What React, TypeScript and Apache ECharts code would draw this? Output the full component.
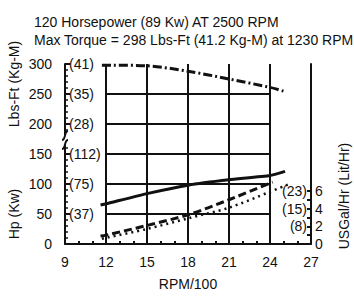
import React, { useEffect, useRef } from "react";
import * as echarts from "echarts";

const titleLines = [
  "120 Horsepower (89 Kw) AT 2500 RPM",
  "Max Torque = 298 Lbs-Ft (41.2 Kg-M) at 1230 RPM",
];

// x = RPM/100
const torque: [number, number][] = [
  [11.7, 298], [12.5, 298], [15, 297], [18, 288], [21, 275], [24, 261], [25.1, 254],
];
const horsepower: [number, number][] = [
  [11.6, 65], [12, 67], [15, 84], [18, 98], [21, 107], [24, 114], [25.1, 121],
];
// fuel, USGal/Hr (right axis)
const fuelDashed: [number, number][] = [
  [11.6, 0.9], [12, 1.0], [15, 2.1], [18, 3.3], [21, 5.0], [24.2, 7.0],
];
const fuelDotted: [number, number][] = [
  [11.7, 0.6], [12, 0.7], [15, 1.7], [18, 2.9], [21, 4.1], [24, 5.9], [25.3, 6.7],
];

const gridXs = [12, 15, 18, 21, 24];
const gridYs = [50, 100, 150, 200, 250];
const leftInnerLabels: Record<number, string> = {
  300: "(41)", 250: "(35)", 200: "(28)", 150: "(112)", 100: "(75)", 50: "(37)",
};
const rightInnerLabels: Record<number, string> = { 2: "(8)", 4: "(15)", 6: "(23)" };
const rightLabels = [0, 2, 4, 6];

const FONT = "Liberation Sans, Arial, sans-serif";

export default function App() {
  const ref = useRef<HTMLDivElement>(null);
  useEffect(() => {
    if (!ref.current) return;
    const chart = echarts.init(ref.current, undefined, { renderer: "svg" });
    const black = "#111";
    const markData: any[] = [];
    gridXs.forEach((x) => markData.push([{ coord: [x, 0] }, { coord: [x, 300] }]));
    gridYs.forEach((y) => markData.push([{ coord: [12, y] }, { coord: [24, y] }]));

    chart.setOption({
      animation: false,
      textStyle: { fontFamily: FONT, color: black },
      title: {
        text: titleLines.join("\n"),
        left: 29,
        top: 8,
        textStyle: { fontSize: 14, fontWeight: "normal", lineHeight: 18, color: black, fontFamily: FONT },
      },
      grid: { left: 65, right: 43, top: 64, bottom: 49 },
      xAxis: {
        type: "value",
        min: 9,
        max: 27,
        interval: 3,
        name: "RPM/100",
        nameLocation: "middle",
        nameGap: 33,
        nameTextStyle: { fontSize: 14, color: black, fontFamily: FONT },
        axisLine: { lineStyle: { color: black, width: 2 } },
        axisTick: { inside: true, length: 5, lineStyle: { color: black, width: 2 } },
        minorTick: { show: true, splitNumber: 3, length: 3, lineStyle: { color: black, width: 2 } },
        axisLabel: { fontSize: 14, color: black, margin: 11, fontFamily: FONT },
        splitLine: { show: false },
      },
      yAxis: [
        {
          type: "value",
          min: 0,
          max: 300,
          interval: 50,
          position: "left",
          axisLine: { show: true, lineStyle: { color: black, width: 2 } },
          axisTick: { inside: true, length: 5, lineStyle: { color: black, width: 2 } },
          minorTick: { show: true, splitNumber: 5, length: 3, lineStyle: { color: black, width: 1.5 } },
          axisLabel: { fontSize: 14, color: black, margin: 13, fontFamily: FONT },
          splitLine: { show: false },
        },
        {
          type: "value",
          min: 0,
          max: 20.33,
          position: "right",
          axisLine: { show: true, lineStyle: { color: black, width: 2 } },
          axisTick: { show: true, inside: true, length: 4, customValues: [0, 1, 2, 3, 4, 5, 6], lineStyle: { color: black, width: 2 } },
          axisLabel: { fontSize: 14, color: black, margin: 4, customValues: rightLabels, fontFamily: FONT },
          splitLine: { show: false },
        },
        {
          type: "value",
          min: 0,
          max: 300,
          interval: 50,
          position: "left",
          axisLine: { show: false },
          axisTick: { show: false },
          axisLabel: {
            inside: true,
            margin: 4,
            fontSize: 14,
            color: black,
            fontFamily: FONT,
            formatter: (v: number) => leftInnerLabels[v] || "",
          },
          splitLine: { show: false },
        },
        {
          type: "value",
          min: 0,
          max: 20.33,
          position: "right",
          axisLine: { show: false },
          axisTick: { show: false },
          axisLabel: {
            inside: true,
            margin: 4,
            fontSize: 14,
            color: black,
            fontFamily: FONT,
            customValues: [2, 4, 6],
            formatter: (v: number) => rightInnerLabels[v] || "",
          },
          splitLine: { show: false },
        },
      ],
      series: [
        {
          type: "line",
          name: "grid",
          data: [],
          yAxisIndex: 0,
          silent: true,
          markLine: {
            silent: true,
            symbol: "none",
            label: { show: false },
            lineStyle: { color: black, width: 2, type: "solid" },
            data: markData,
          },
        },
        {
          type: "line",
          name: "Torque",
          data: torque,
          yAxisIndex: 0,
          smooth: 0.3,
          showSymbol: false,
          lineStyle: { color: black, width: 3, type: [9, 3, 2, 3] },
        },
        {
          type: "line",
          name: "Hp",
          data: horsepower,
          yAxisIndex: 0,
          smooth: 0.15,
          showSymbol: false,
          lineStyle: { color: black, width: 3 },
        },
        {
          type: "line",
          name: "Fuel dashed",
          data: fuelDashed,
          yAxisIndex: 1,
          smooth: 0.3,
          showSymbol: false,
          lineStyle: { color: black, width: 3, type: [8, 4] },
        },
        {
          type: "line",
          name: "Fuel dotted",
          data: fuelDotted,
          yAxisIndex: 1,
          smooth: 0.3,
          showSymbol: false,
          lineStyle: { color: black, width: 2.5, type: [2, 4] },
        },
      ],
      graphic: [
        {
          type: "text",
          x: 14,
          y: 84,
          rotation: Math.PI / 2,
          style: { text: "Lbs-Ft (Kg-M)", fontSize: 14, fill: black, font: `14px ${FONT}`, align: "center", verticalAlign: "middle" },
        },
        {
          type: "text",
          x: 14,
          y: 214,
          rotation: Math.PI / 2,
          style: { text: "Hp (Kw)", fontSize: 14, fill: black, font: `14px ${FONT}`, align: "center", verticalAlign: "middle" },
        },
        {
          type: "text",
          x: 344,
          y: 196,
          rotation: Math.PI / 2,
          style: { text: "USGal/Hr (Lit/Hr)", fontSize: 14, fill: black, font: `14px ${FONT}`, align: "center", verticalAlign: "middle" },
        },
        {
          type: "rect",
          shape: { x: 60, y: 135, width: 11, height: 10 },
          style: { fill: "#fff" },
          z: 100,
        },
        {
          type: "bezierCurve",
          shape: { x1: 62, y1: 140, x2: 68, y2: 131, cpx1: 66, cpy1: 140, cpx2: 64, cpy2: 131 },
          style: { stroke: black, lineWidth: 2, fill: "none" },
          z: 101,
        },
        {
          type: "bezierCurve",
          shape: { x1: 62, y1: 149, x2: 68, y2: 140, cpx1: 66, cpy1: 149, cpx2: 64, cpy2: 140 },
          style: { stroke: black, lineWidth: 2, fill: "none" },
          z: 101,
        },
      ],
    });
    return () => chart.dispose();
  }, []);
  return (
    <div
      ref={ref}
      style={{ position: "fixed", left: 0, top: 0, width: 354, height: 296, background: "#fff" }}
    />
  );
}
